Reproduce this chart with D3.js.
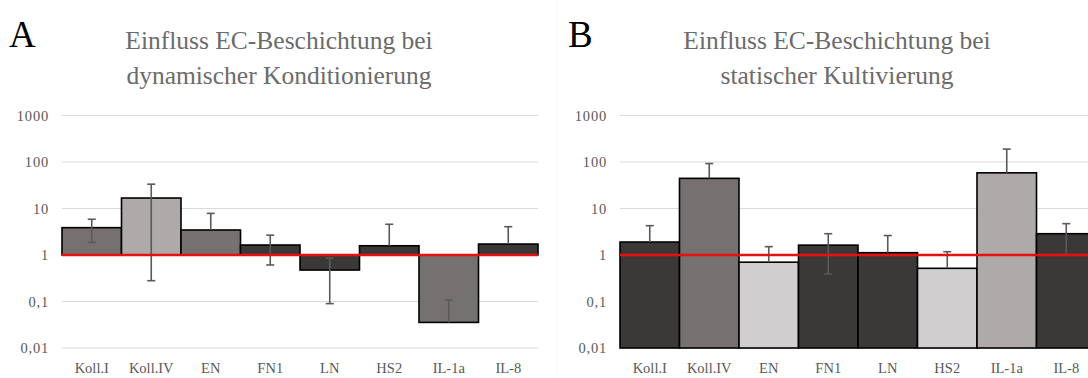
<!DOCTYPE html>
<html>
<head>
<meta charset="utf-8">
<script src="https://cdn.jsdelivr.net/npm/d3@7"></script>
<style>
  html, body { margin: 0; padding: 0; background: #fff; }
  svg { display: block; }
  text { font-family: "Liberation Serif", "DejaVu Serif", serif; }
</style>
</head>
<body>
<svg id="chart" width="1088" height="378"></svg>
<script>
// ---- data ----
const categories = ["Koll.I", "Koll.IV", "EN", "FN1", "LN", "HS2", "IL-1a", "IL-8"];
const yTickValues = [0.01, 0.1, 1, 10, 100, 1000];
const yTickLabels = ["0,01", "0,1", "1", "10", "100", "1000"];

const panelLetters = ["A", "B"];
const titlesA = ["Einfluss EC-Beschichtung bei", "dynamischer Konditionierung"];
const titlesB = ["Einfluss EC-Beschichtung bei", "statischer Kultivierung"];

// Panel A: dynamic conditioning (fold change, bars drawn from 1)
const valuesA = [3.87, 16.8, 3.45, 1.64, 0.475, 1.58, 0.0355, 1.72];
const errorsA = [2.0, 16.52, 4.4, 1.03, 0.385, 3.0, 0.072, 2.34];
const shadesA = ["mid", "light", "mid", "dark", "dark", "dark", "mid", "dark"];

// Panel B: static cultivation (bars drawn from axis bottom)
const valuesB = [1.9, 44.5, 0.70, 1.63, 1.12, 0.517, 58.5, 2.87];
const errorsB = [2.37, 48, 0.81, 1.24, 1.5, 0.66, 131, 1.85];
const shadesB = ["dark", "mid", "pale", "dark", "dark", "pale", "light", "dark"];

const referenceLevel = 1;

// ---- styles ----
const shadeColor = { dark: "#3b3838", mid: "#767171", light: "#aeaaaa", pale: "#d0cece" };
const textGray = "#595959";
const titleGray = "#6b6b6b";

const svg = d3.select("#chart");

// faint panel border of the second image
svg.append("line").attr("x1", 557).attr("x2", 557).attr("y1", 0).attr("y2", 378)
  .attr("stroke", "#f5f5f5").attr("stroke-width", 1);

function drawPanel(cfg) {
  const g = svg.append("g").attr("transform", `translate(${cfg.dx},0)`);
  const x = d3.scaleBand().domain(categories).range([62, 538]).paddingInner(0).paddingOuter(0);
  const y = d3.scaleLog().domain([0.01, 1000]).range([348, 115.5]);

  // gridlines
  g.append("g").selectAll("line").data(yTickValues).join("line")
    .attr("x1", 62).attr("x2", 538)
    .attr("y1", d => y(d)).attr("y2", d => y(d))
    .attr("stroke", "#d9d9d9").attr("stroke-width", 1.2);

  // y tick labels via axis
  const yAxis = d3.axisLeft(y).tickValues(yTickValues)
    .tickFormat((d, i) => yTickLabels[i]).tickSize(0).tickPadding(13);
  const ya = g.append("g").attr("transform", "translate(62,0)").call(yAxis);
  ya.select(".domain").remove();
  ya.selectAll("text").attr("fill", textGray).style("font-size", "14.5px")
    .style("letter-spacing", "0.8px")
    .style("font-family", '"Liberation Serif", serif');

  // bars
  const data = categories.map((c, i) => ({ c, v: cfg.values[i], e: cfg.errors[i], s: cfg.shades[i] }));
  g.append("g").selectAll("rect").data(data).join("rect")
    .attr("x", d => x(d.c))
    .attr("width", x.bandwidth())
    .attr("y", d => Math.min(y(d.v), y(cfg.base)))
    .attr("height", d => Math.abs(y(d.v) - y(cfg.base)))
    .attr("fill", d => shadeColor[d.s])
    .attr("stroke", "#000").attr("stroke-width", 1.6);

  // error bars
  const eg = g.append("g").attr("stroke", "#595959").attr("stroke-width", 1.6);
  data.forEach(d => {
    const cx = x(d.c) + x.bandwidth() / 2;
    const up = d.v + d.e;
    const lo = d.v - d.e;
    const yTop = y(up);
    const yBot = lo > 0 ? y(lo) : y(d.v);
    eg.append("line").attr("x1", cx).attr("x2", cx).attr("y1", yTop).attr("y2", yBot);
    eg.append("line").attr("x1", cx - 4).attr("x2", cx + 4).attr("y1", yTop).attr("y2", yTop);
    if (lo > 0) eg.append("line").attr("x1", cx - 4).attr("x2", cx + 4).attr("y1", yBot).attr("y2", yBot);
  });

  // reference line at 1
  g.append("line").attr("x1", 62).attr("x2", 538)
    .attr("y1", y(referenceLevel)).attr("y2", y(referenceLevel))
    .attr("stroke", "#e8100f").attr("stroke-width", 2.4);

  // category labels
  const xAxis = d3.axisBottom(x).tickSize(0).tickPadding(0);
  const xa = g.append("g").attr("transform", "translate(0,363)").call(xAxis);
  xa.select(".domain").remove();
  xa.selectAll("text").attr("fill", textGray).style("font-size", "14.5px")
    .style("font-family", '"Liberation Serif", serif');

  // title
  g.append("text").attr("x", 279).attr("y", 49).attr("text-anchor", "middle")
    .attr("fill", titleGray).style("font-size", "25.5px").text(cfg.title[0]);
  g.append("text").attr("x", 279).attr("y", 84).attr("text-anchor", "middle")
    .attr("fill", titleGray).style("font-size", "25.5px").text(cfg.title[1]);

  // panel letter
  g.append("text").attr("x", cfg.letterX).attr("y", 47).attr("fill", "#000")
    .style("font-size", "37px").text(cfg.letter);
}

drawPanel({ dx: 0, values: valuesA, errors: errorsA, shades: shadesA, base: referenceLevel,
  title: titlesA, letter: panelLetters[0], letterX: 9 });
drawPanel({ dx: 558, values: valuesB, errors: errorsB, shades: shadesB, base: 0.01,
  title: titlesB, letter: panelLetters[1], letterX: 10 });
</script>
</body>
</html>
